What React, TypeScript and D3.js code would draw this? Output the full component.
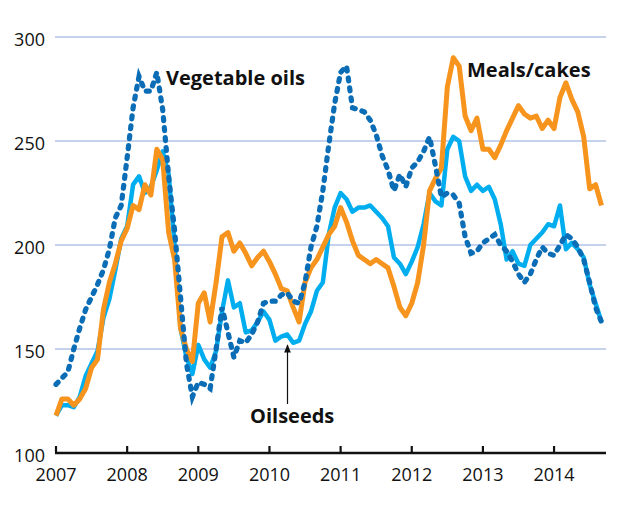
import React, { useEffect, useRef } from 'react';
import * as d3 from 'd3';

// monthly index values, Jan 2007 .. Sep 2014
const startYear = 2007;
const yearTicks = [2007, 2008, 2009, 2010, 2011, 2012, 2013, 2014];
const valueTicks = [100, 150, 200, 250, 300];

const vegetableOils = [
  133, 136, 139, 150, 160, 169, 175, 181, 188, 198, 213, 219,
  242, 266, 281, 274, 274, 283, 265, 233, 207, 175, 143, 127,
  134, 133, 131, 150, 170, 158, 146, 154, 153, 157, 163, 172,
  173, 173, 176, 177, 173, 172, 182, 199, 209, 226, 248, 268,
  283, 286, 266, 265, 264, 260, 253, 243, 236, 226, 234, 228,
  237, 240, 245, 252, 238, 223, 225, 224, 220, 204, 196, 197,
  201, 203, 205, 200, 197, 192, 186, 182, 186, 193, 199, 196,
  195, 200, 205, 203, 199, 193, 182, 170, 163,
];

const oilseeds = [
  118, 123, 123, 122, 127, 137, 143, 149, 165, 174, 188, 203,
  209, 229, 233, 225, 228, 236, 245, 234, 200, 160, 146, 138,
  152, 145, 141, 149, 168, 183, 170, 172, 158, 159, 163, 168,
  164, 154, 156, 157, 153, 154, 162, 168, 178, 182, 205, 218,
  225, 222, 216, 218, 218, 219, 216, 213, 209, 194, 191, 186,
  192, 199, 210, 225, 221, 219, 246, 252, 250, 233, 226, 229,
  226, 228, 222, 210, 193, 197, 191, 190, 200, 203, 206, 210,
  209, 219, 198, 201, 198, 194, 181, 172, 163,
];

const mealsCakes = [
  118, 126, 126, 123, 126, 131, 141, 145, 169, 182, 191, 202,
  208, 219, 217, 229, 224, 246, 241, 206, 193, 160, 150, 144,
  172, 177, 163, 182, 204, 206, 197, 201, 196, 190, 194, 197,
  192, 186, 179, 178, 170, 163, 182, 189, 193, 199, 205, 209,
  218, 211, 202, 195, 193, 191, 193, 191, 189, 180, 170, 166,
  172, 182, 200, 226, 232, 237, 276, 290, 286, 262, 255, 261,
  246, 246, 242, 248, 255, 261, 267, 263, 261, 262, 256, 260,
  256, 271, 278, 270, 264, 252, 227, 229, 219,
];

const App = () => {
  const ref = useRef<SVGSVGElement>(null);

  useEffect(() => {
    const width = 637;
    const height = 517;
    const font = "'Open Sans', sans-serif";

    const svg = d3.select(ref.current);
    svg.selectAll('*').remove();

    const x = d3.scaleLinear().domain([2007, 2014.73]).range([56, 606]);
    const y = d3.scaleLinear().domain([100, 300]).range([453, 37]);

    // gridlines
    svg.append('g')
      .selectAll('line')
      .data(valueTicks.filter(v => v > 100))
      .enter()
      .append('line')
      .attr('x1', 55)
      .attr('x2', 606)
      .attr('y1', d => y(d))
      .attr('y2', d => y(d))
      .attr('stroke', '#8ba6db')
      .attr('stroke-width', 1.2);

    // y labels
    svg.append('g')
      .selectAll('text')
      .data(valueTicks)
      .enter()
      .append('text')
      .attr('x', 45)
      .attr('y', d => y(d) + 9)
      .attr('text-anchor', 'end')
      .style('font-family', font)
      .style('font-size', '18px')
      .attr('fill', '#111')
      .text(d => d);

    // x axis
    svg.append('line')
      .attr('x1', 55)
      .attr('x2', 606)
      .attr('y1', y(100))
      .attr('y2', y(100))
      .attr('stroke', '#111')
      .attr('stroke-width', 2.5);

    const xt = svg.append('g')
      .selectAll('g')
      .data(yearTicks)
      .enter()
      .append('g')
      .attr('transform', d => `translate(${x(d)},${y(100)})`);

    xt.append('line')
      .attr('y1', 0)
      .attr('y2', -7)
      .attr('stroke', '#111')
      .attr('stroke-width', 2.2);

    xt.append('text')
      .attr('y', 27.5)
      .attr('text-anchor', 'middle')
      .style('font-family', font)
      .style('font-size', '18px')
      .attr('fill', '#111')
      .text(d => d);

    const line = d3.line<number>()
      .x((_, i) => x(startYear + i / 12))
      .y(d => y(d))
      .curve(d3.curveLinear);

    svg.append('path')
      .datum(oilseeds)
      .attr('d', line)
      .attr('fill', 'none')
      .attr('stroke', '#00aeef')
      .attr('stroke-width', 4.5)
      .attr('stroke-linejoin', 'round');

    svg.append('path')
      .datum(mealsCakes)
      .attr('d', line)
      .attr('fill', 'none')
      .attr('stroke', '#f7941d')
      .attr('stroke-width', 5)
      .attr('stroke-linejoin', 'round');

    svg.append('path')
      .datum(vegetableOils)
      .attr('d', line)
      .attr('fill', 'none')
      .attr('stroke', '#0a6db6')
      .attr('stroke-width', 5.2)
      .attr('stroke-linecap', 'round')
      .attr('stroke-dasharray', '3,7');

    // series labels
    const labels = [
      { text: 'Vegetable oils', x: 166, y: 85 },
      { text: 'Meals/cakes', x: 467, y: 77 },
      { text: 'Oilseeds', x: 250, y: 423 },
    ];
    svg.append('g')
      .selectAll('text')
      .data(labels)
      .enter()
      .append('text')
      .attr('x', d => d.x)
      .attr('y', d => d.y)
      .style('font-family', font)
      .style('font-size', '20px')
      .style('font-weight', 700)
      .attr('fill', '#111')
      .text(d => d.text);

    // arrow to the oilseeds line
    svg.append('defs')
      .append('marker')
      .attr('id', 'arrowhead')
      .attr('viewBox', '0 0 10 10')
      .attr('refX', 9)
      .attr('refY', 5)
      .attr('markerWidth', 7)
      .attr('markerHeight', 7)
      .attr('orient', 'auto')
      .append('path')
      .attr('d', 'M0,1 L10,5 L0,9 Z')
      .attr('fill', '#111');

    svg.append('line')
      .attr('x1', 287.5)
      .attr('x2', 287.5)
      .attr('y1', 404)
      .attr('y2', 345)
      .attr('stroke', '#111')
      .attr('stroke-width', 1.2)
      .attr('marker-end', 'url(#arrowhead)');

    svg.attr('width', width).attr('height', height);
  }, []);

  return (
    <svg
      ref={ref}
      width={637}
      height={517}
      style={{ position: 'absolute', left: 0, top: 0, background: '#fff' }}
    />
  );
};

export default App;
